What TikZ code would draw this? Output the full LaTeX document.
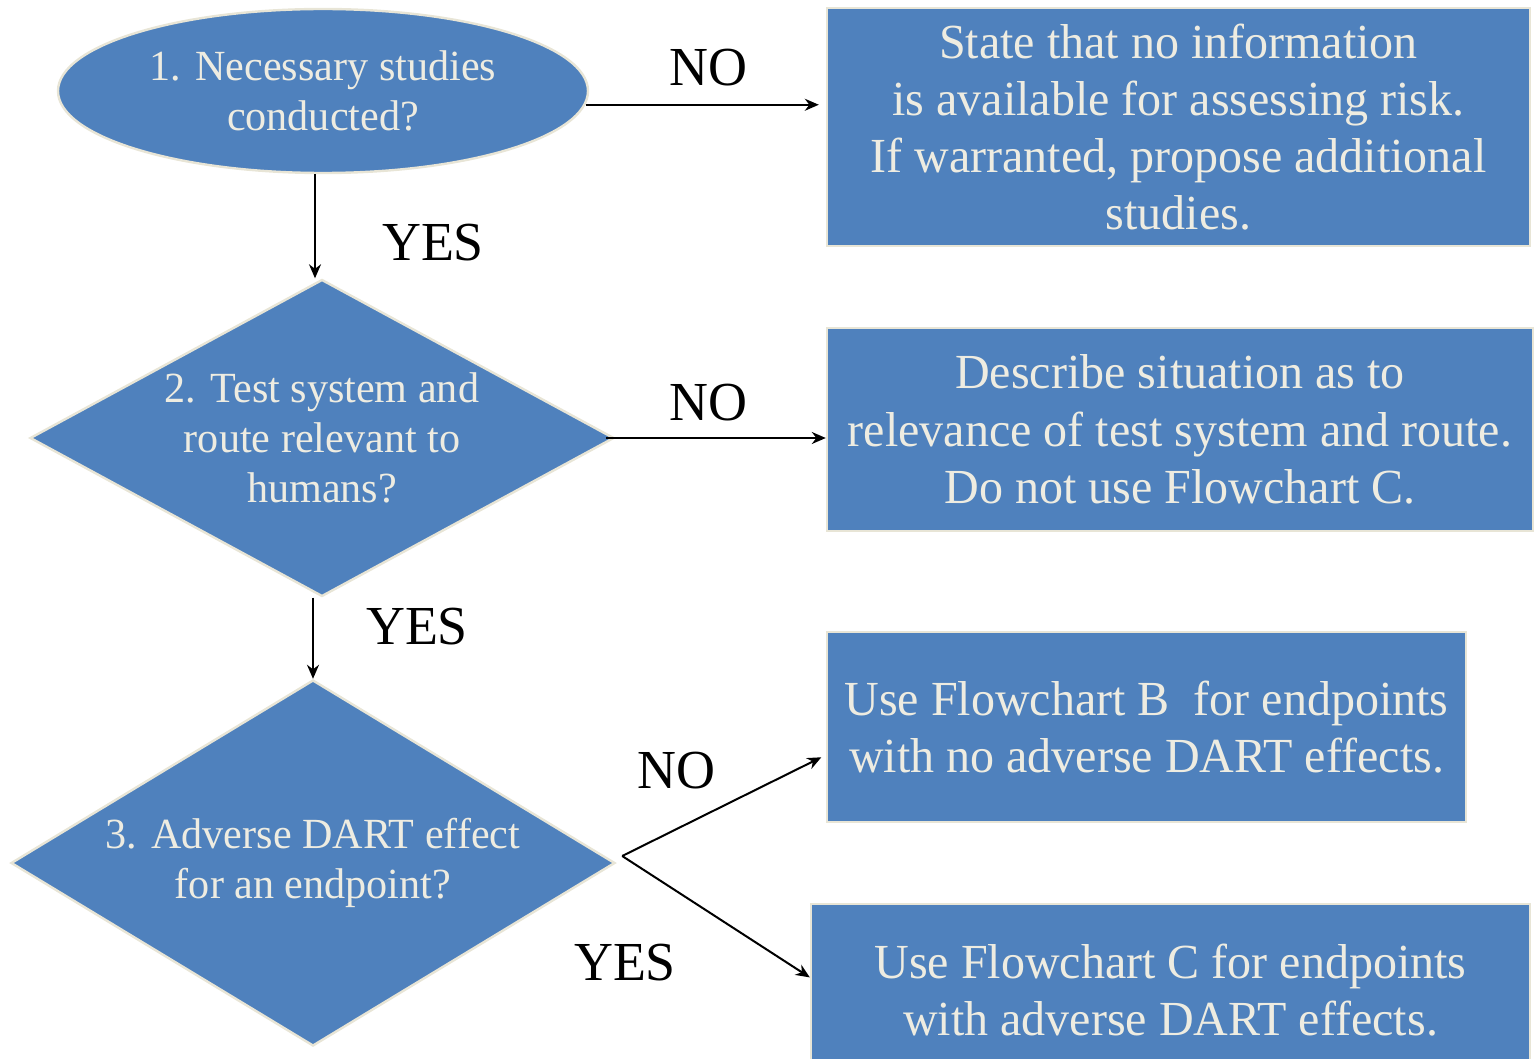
\documentclass[tikz,border=0pt]{standalone}
\usepackage{fontspec}
\setmainfont{Liberation Serif}[FakeStretch=0.98]
\usetikzlibrary{shapes.geometric,arrows.meta}

\definecolor{boxblue}{RGB}{79,129,189}
\definecolor{cream}{RGB}{238,236,225}
\definecolor{rim}{RGB}{232,229,214}

\tikzset{
  shapebase/.style={fill=boxblue, draw=rim, line width=1.2pt, text=cream,
    align=center, inner sep=0pt},
  question/.style={shapebase, font=\fontsize{21.5}{25}\selectfont},
  outcome/.style={shapebase, rectangle, font=\fontsize{24.5}{28.6}\selectfont},
  decision/.style={question, diamond},
  answer/.style={text=black, inner sep=0pt, font=\fontsize{27.5}{30}\selectfont},
  arr/.style={draw=black, line width=1pt, -{Stealth[length=7pt,width=6pt]}},
}

\begin{document}
\begin{tikzpicture}[x=0.5pt, y=-0.5pt]
  \useasboundingbox (0,0) rectangle (1536,1059);
  \clip (0,0) rectangle (1536,1059);

  % question nodes
  \node[question, ellipse, minimum width=265pt, minimum height=82pt] (e1) at (323,91)
    {1. Necessary studies\\conducted?};
  \node[decision, aspect=1.84, minimum width=292pt, minimum height=158.5pt] (d2) at (322,438)
    {2. Test system and\\route relevant to\\humans?};
  \node[decision, aspect=1.65, minimum width=302pt, minimum height=183pt] (d3) at (313,863)
    {3. Adverse DART effect\\for an endpoint?};

  % outcome boxes
  \node[outcome, minimum width=351.5pt, minimum height=119pt] (b1) at (1178.5,127)
    {State that no information\\is available for assessing risk.\\If warranted, propose additional\\studies.};
  \node[outcome, minimum width=353pt, minimum height=101.5pt] (b2) at (1180,429.5)
    {Describe situation as to\\relevance of test system and route.\\Do not use Flowchart C.};
  \node[outcome, minimum width=319.5pt, minimum height=95pt] (b3) at (1146.5,727)
    {Use Flowchart B\ \ for endpoints\\with no adverse DART effects.};
  \node[outcome, minimum width=359.5pt, minimum height=86pt] (b4) at (1170.5,990)
    {Use Flowchart C for endpoints\\with adverse DART effects.};

  % branch point to the right of the last decision
  \coordinate (fork) at ([shift={(6,-7)}]d3.east);

  % connectors
  \draw[arr, shorten >=3.5pt] (e1.-3) -- (e1.-3 -| b1.west);
  \draw[arr] ([xshift=-4pt]e1.south) -- ([xshift=-4pt]e1.south |- d2.north);
  \draw[arr] ([xshift=-4.5pt]d2.east) -- (d2.east -| b2.west);
  \draw[arr] (d3.north |- d2.south) -- (d3.north);
  \draw[arr, shorten >=2.5pt] (fork) -- (b3.185.9);
  \draw[arr] (fork) -- (b4.178.4);

  % branch labels
  \node[answer] (no1) at (708,68) {NO};
  \node[answer] (yes1) at (433,243) {YES};
  \node[answer] (no2) at (708,403) {NO};
  \node[answer] (yes2) at (417,627) {YES};
  \node[answer] (no3) at (676,771) {NO};
  \node[answer] (yes3) at (625,963) {YES};
\end{tikzpicture}
\end{document}
